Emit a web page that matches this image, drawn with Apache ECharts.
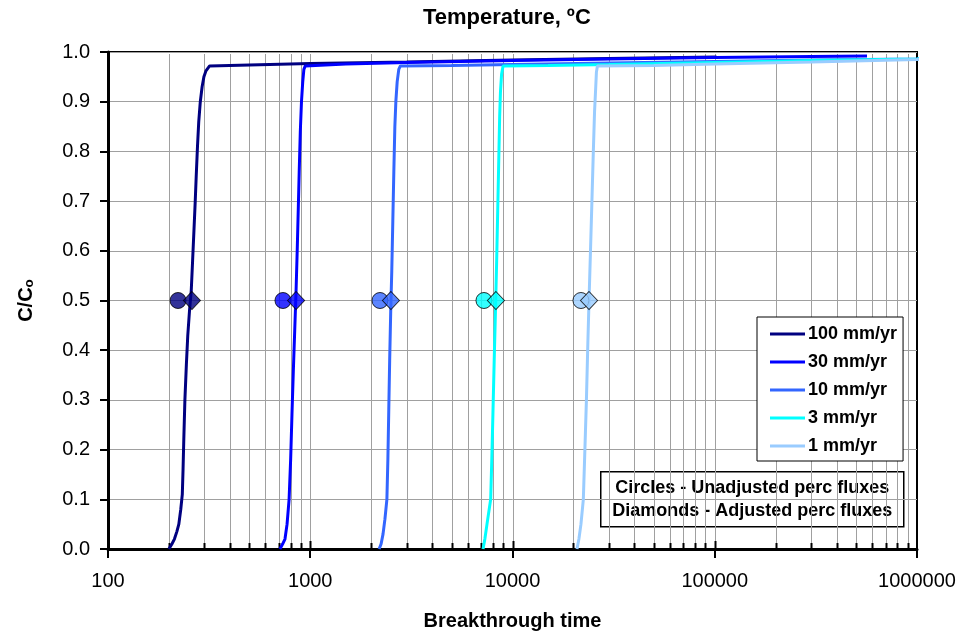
<!DOCTYPE html>
<html>
<head>
<meta charset="utf-8">
<script src="https://cdn.jsdelivr.net/npm/echarts@6/dist/echarts.min.js"></script>
<style>
html,body{margin:0;padding:0;background:#fff;}
#chart{width:979px;height:637px;}
</style>
</head>
<body>
<div id="chart"></div>
<script>
// ---- data ----
const seriesNames = ['100 mm/yr', '30 mm/yr', '10 mm/yr', '3 mm/yr', '1 mm/yr'];
const curve100 = [[200,0],[207,0.01],[213,0.02],[219,0.035],[224,0.05],[229,0.08],[233,0.11],[235,0.16],[237,0.22],[240,0.3],[244,0.37],[248,0.43],[253,0.48],[258,0.52],[262,0.58],[266,0.64],[270,0.7],[273,0.75],[277,0.81],[281,0.86],[286,0.9],[292,0.93],[298,0.95],[305,0.962],[318,0.972],[500,0.974],[1000,0.977],[3000,0.98],[10000,0.984],[30000,0.987],[102000,0.99]];
const curve30 = [[708,0],[730,0.01],[750,0.02],[768,0.05],[786,0.1],[800,0.18],[812,0.27],[825,0.36],[838,0.44],[851,0.52],[862,0.6],[872,0.68],[882,0.76],[893,0.84],[905,0.9],[918,0.94],[930,0.965],[945,0.972],[1500,0.976],[3000,0.979],[10000,0.983],[30000,0.986],[100000,0.989],[300000,0.991],[566000,0.992]];
const curve10 = [[2190,0],[2240,0.01],[2290,0.03],[2340,0.06],[2393,0.1],[2420,0.18],[2445,0.28],[2470,0.38],[2500,0.48],[2530,0.56],[2560,0.66],[2590,0.76],[2620,0.85],[2650,0.9],[2690,0.94],[2740,0.965],[2790,0.972],[5000,0.973],[10000,0.975],[30000,0.978],[100000,0.981],[300000,0.984],[1000000,0.986],[1120000,0.987]];
const curve3 = [[7150,0],[7300,0.02],[7480,0.05],[7800,0.1],[7900,0.18],[8000,0.27],[8120,0.38],[8250,0.49],[8350,0.58],[8450,0.68],[8550,0.78],[8640,0.87],[8720,0.92],[8830,0.955],[8980,0.972],[15000,0.973],[30000,0.975],[100000,0.979],[300000,0.983],[1000000,0.986],[1120000,0.987]];
const curve1 = [[20840,0],[21300,0.02],[21800,0.05],[22400,0.1],[22800,0.2],[23200,0.3],[23600,0.42],[23900,0.5],[24300,0.6],[24700,0.7],[25100,0.8],[25450,0.88],[25800,0.93],[26000,0.96],[26300,0.972],[50000,0.973],[100000,0.976],[300000,0.98],[1000000,0.985],[1120000,0.986]];
const curves = [curve100, curve30, curve10, curve3, curve1];
const circleTimes  = [222, 733, 2213, 7226, 21800];   // unadjusted perc fluxes
const diamondTimes = [260, 851, 2506, 8280, 23900];   // adjusted perc fluxes
const markerLevel = 0.5;
const xTickLabels = ['100', '1000', '10000', '100000', '1000000'];
const noteLines = ['Circles - Unadjusted perc fluxes', 'Diamonds - Adjusted perc fluxes'];

// ---- styles ----
const colors = ['#000080', '#0000FF', '#3366FF', '#00FFFF', '#99CCFF'];
const FONT = '"Liberation Sans", Arial, sans-serif';

// axis decoration values (minor + major decade lines inside plot)
const decades = [100, 1000, 10000, 100000];
const gridVals = [];
decades.forEach((d, i) => {
  for (let k = 2; k <= 9; k++) gridVals.push([d * k, 0]);
  if (i < decades.length - 1) gridVals.push([d * 10, 1]);
});

const series = [];
series.push({
  type: 'custom',
  name: 'grid',
  z: 1,
  silent: true,
  clip: false,
  data: gridVals,
  encode: { x: 0 },
  renderItem: function (params, api) {
    const v = api.value(0);
    const major = api.value(1) === 1;
    const p0 = api.coord([v, 0]);
    const p1 = api.coord([v, 1]);
    const x = Math.round(p0[0]) + 0.5;
    return {
      type: 'group',
      children: [
        { type: 'line', shape: { x1: x, y1: p0[1] - 2, x2: x, y2: p1[1] + 2 }, style: { stroke: '#a0a0a0', lineWidth: 1 } },
        { type: 'line', shape: { x1: x, y1: p0[1], x2: x, y2: p0[1] - (major ? 8 : 6) }, style: { stroke: '#000', lineWidth: 2 } }
      ]
    };
  }
});

curves.forEach((c, i) => {
  series.push({
    type: 'line',
    name: seriesNames[i],
    data: c,
    showSymbol: false,
    symbol: 'none',
    clip: i < 2,
    z: 3,
    lineStyle: { color: colors[i], width: 3 },
    itemStyle: { color: colors[i] },
    emphasis: { disabled: true }
  });
});

series.push({
  type: 'scatter',
  name: 'circles',
  z: 4,
  symbol: 'circle',
  symbolSize: 16,
  data: circleTimes.map((t, i) => ({ value: [t, markerLevel], itemStyle: { color: colors[i] } })),
  itemStyle: { borderColor: '#000', borderWidth: 1 }
});
series.push({
  type: 'scatter',
  name: 'diamonds',
  z: 5,
  symbol: 'diamond',
  symbolSize: [17, 18],
  data: diamondTimes.map((t, i) => ({ value: [t, markerLevel], itemStyle: { color: colors[i] } })),
  itemStyle: { borderColor: '#000', borderWidth: 1 }
});

const chart = echarts.init(document.getElementById('chart'), null, { renderer: 'canvas' });
chart.setOption({
  animation: false,
  backgroundColor: '#fff',
  textStyle: { fontFamily: FONT, color: '#000' },
  title: {
    text: 'Temperature, ºC',
    left: 423, top: 7, padding: 0,
    textStyle: { fontFamily: FONT, fontSize: 22, fontWeight: 'bold', color: '#000' }
  },
  grid: {
    left: 108, right: 62, top: 52, bottom: 88,
    show: true, borderColor: '#000', borderWidth: 2, backgroundColor: 'transparent'
  },
  legend: {
    data: seriesNames,
    orient: 'vertical',
    left: 757, top: 317,
    padding: [8, 6, 6, 13],
    itemGap: 10,
    itemWidth: 35, itemHeight: 3,
    icon: 'rect',
    backgroundColor: '#fff',
    borderColor: '#000', borderWidth: 1,
    selectedMode: false,
    textStyle: { fontFamily: FONT, fontSize: 18, fontWeight: 'bold', color: '#000', padding: [0, 0, 0, -2] }
  },
  xAxis: {
    type: 'log', logBase: 10, min: 100, max: 1000000,
    name: 'Breakthrough time', nameLocation: 'middle', nameGap: 62,
    nameTextStyle: { fontFamily: FONT, fontSize: 20, fontWeight: 'bold', color: '#000' },
    axisLine: { show: true, onZero: false, lineStyle: { color: '#000', width: 3 } },
    axisTick: { show: true, inside: false, length: 9, lineStyle: { color: '#000', width: 2 } },
    minorTick: { show: false },
    splitLine: { show: false },
    axisLabel: {
      margin: 22, fontFamily: FONT, fontSize: 20, color: '#000',
      formatter: function (v) { const i = Math.round(Math.log10(v)) - 2; return xTickLabels[i] !== undefined ? xTickLabels[i] : ''; }
    }
  },
  yAxis: {
    type: 'value', min: 0, max: 1, interval: 0.1,
    name: 'C/Cₒ', nameLocation: 'middle', nameGap: 72,
    nameTextStyle: { fontFamily: FONT, fontSize: 20, fontWeight: 'bold', color: '#000' },
    axisLine: { show: true, lineStyle: { color: '#000', width: 3 } },
    axisTick: { show: true, inside: false, length: 8, lineStyle: { color: '#000', width: 2 } },
    splitLine: { show: true, lineStyle: { color: '#a0a0a0', width: 1 } },
    axisLabel: {
      margin: 18, fontFamily: FONT, fontSize: 20, color: '#000',
      formatter: function (v) { return v.toFixed(1); }
    }
  },
  graphic: [{
    type: 'group', left: 600, top: 471, z: 100,
    children: [
      { type: 'rect', shape: { x: 0, y: 0, width: 303, height: 55 }, style: { fill: '#fff', stroke: '#000', lineWidth: 1.5 } },
      { type: 'text', x: 151.5, y: 16, style: { text: noteLines[0], font: 'bold 18px ' + FONT, fill: '#000', align: 'center', verticalAlign: 'middle' } },
      { type: 'text', x: 151.5, y: 39, style: { text: noteLines[1], font: 'bold 18px ' + FONT, fill: '#000', align: 'center', verticalAlign: 'middle' } }
    ]
  }],
  series: series
});
</script>
</body>
</html>
